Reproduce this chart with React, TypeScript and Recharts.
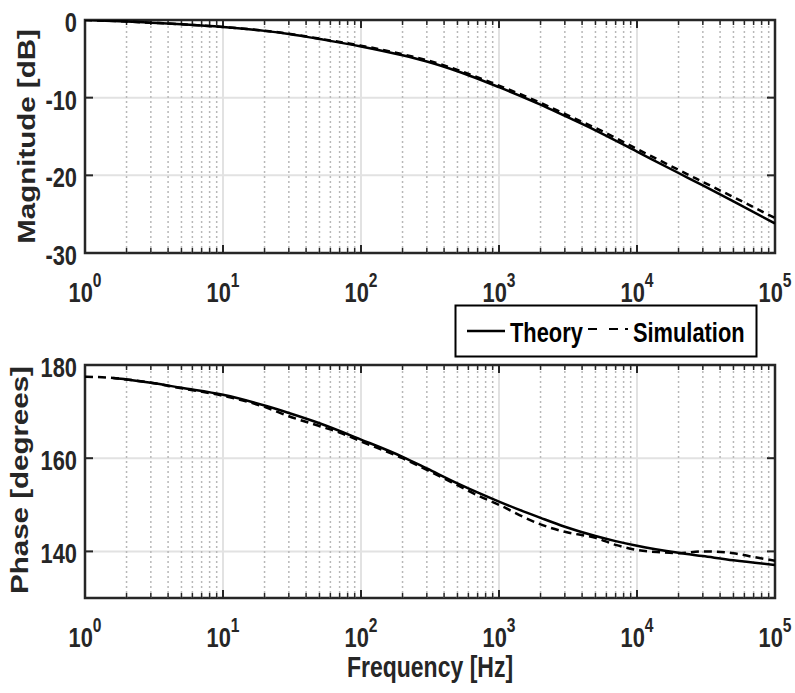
import React from 'react';
import { LineChart, Line, XAxis, YAxis, CartesianGrid, ReferenceLine, ReferenceArea } from 'recharts';

// frequency response: theory vs simulation
const magFreq = [1, 2, 3, 5, 10, 20, 30, 50, 100, 200, 300, 500, 1000, 2000, 3000, 5000, 10000, 20000, 30000, 50000, 100000];
const magTheory = [0, -0.2, -0.35, -0.55, -0.9, -1.4, -1.8, -2.45, -3.4, -4.55, -5.35, -6.6, -8.65, -10.9, -12.35, -14.2, -16.95, -19.7, -21.3, -23.35, -26.2];
const magSimulation = [0, -0.2, -0.35, -0.55, -0.9, -1.38, -1.76, -2.4, -3.3, -4.4, -5.18, -6.42, -8.45, -10.67, -12.1, -13.9, -16.6, -19.3, -20.85, -22.8, -25.5];

const phaseTheoryFreq = [1.6, 2, 3, 5, 10, 20, 30, 50, 100, 200, 300, 500, 1000, 1500, 2000, 3000, 5000, 7000, 10000, 20000, 30000, 50000, 100000];
const phaseTheory = [177.2, 176.9, 176.2, 175.1, 173.6, 171.3, 169.7, 167.5, 164.0, 160.3, 157.8, 154.6, 150.7, 148.6, 147.2, 145.3, 143.3, 142.2, 141.2, 139.7, 139.0, 138.1, 137.1];
const phaseSimFreq = [1, 1.6, 2, 3, 5, 10, 20, 30, 50, 70, 100, 200, 300, 500, 700, 1000, 1500, 2000, 3000, 5000, 7000, 10000, 15000, 20000, 30000, 50000, 70000, 100000];
const phaseSimulation = [177.5, 177.2, 176.9, 176.2, 175.0, 173.4, 171.0, 169.0, 166.9, 165.5, 163.6, 160.0, 157.5, 154.2, 152.0, 150.0, 147.4, 145.8, 144.2, 142.9, 141.4, 140.3, 139.8, 139.6, 140.0, 139.6, 138.8, 138.0];

const decades = [1, 10, 100, 1000, 10000, 100000];
const magTicks = [-30, -20, -10, 0];
const phaseTicks = [140, 160, 180];

const minorFreqs = decades.slice(0, 5).flatMap((d) => [2, 3, 4, 5, 6, 7, 8, 9].map((m) => m * d));

const FONT = '"Liberation Sans", Arial, Helvetica, sans-serif';
const INK = '#262626';
const SQUEEZE = 0.78; // the source picture is narrower than it is tall

const toPoints = (fs: number[], vs: number[]) => fs.map((f, i) => ({ f, v: vs[i] }));

function FreqTick({ x, y, payload }: any) {
  const exp = Math.round(Math.log10(payload.value));
  return (
    <g transform={`translate(${x},${y + 49}) scale(${SQUEEZE},1)`}>
      <text textAnchor="middle" fontFamily={FONT} fontWeight="bold" fontSize={28} fill={INK}>
        10
        <tspan dy={-15} fontSize={20}>{exp}</tspan>
      </text>
    </g>
  );
}

function ValueTick({ x, y, payload }: any) {
  return (
    <g transform={`translate(${x},${y + 12}) scale(${SQUEEZE},1)`}>
      <text textAnchor="end" fontFamily={FONT} fontWeight="bold" fontSize={28} fill={INK}>
        {payload.value}
      </text>
    </g>
  );
}

function Title({ text, x, y, vertical }: { text: string; x: number; y: number; vertical?: boolean }) {
  return (
    <g transform={`translate(${x},${y}) scale(${SQUEEZE},1)${vertical ? ' rotate(-90)' : ''}`}>
      <text textAnchor="middle" fontFamily={FONT} fontWeight="bold" fontSize={29.5} fill={INK}>
        {text}
      </text>
    </g>
  );
}

// inner tick marks + dotted minor grid, MATLAB style
function boxDecor(yMin: number, yMax: number, pxPerUnit: number, yTicks: number[]) {
  const major = 8 / pxPerUnit;
  const minor = 5 / pxPerUnit;
  const side = Math.pow(10, 8 / 138);
  const out: React.ReactNode[] = [];
  minorFreqs.forEach((m) => {
    out.push(<ReferenceLine key={`g${m}`} x={m} stroke="#b8b8b8" strokeDasharray="2 3" strokeWidth={1.5} />);
    out.push(<ReferenceLine key={`b${m}`} segment={[{ x: m, y: yMin }, { x: m, y: yMin + minor }]} stroke={INK} strokeWidth={1.5} />);
    out.push(<ReferenceLine key={`t${m}`} segment={[{ x: m, y: yMax }, { x: m, y: yMax - minor }]} stroke={INK} strokeWidth={1.5} />);
  });
  decades.slice(1, 5).forEach((d) => {
    out.push(<ReferenceLine key={`B${d}`} segment={[{ x: d, y: yMin }, { x: d, y: yMin + major }]} stroke={INK} strokeWidth={2} />);
    out.push(<ReferenceLine key={`T${d}`} segment={[{ x: d, y: yMax }, { x: d, y: yMax - major }]} stroke={INK} strokeWidth={2} />);
  });
  yTicks.filter((t) => t > yMin && t < yMax).forEach((t) => {
    out.push(<ReferenceLine key={`L${t}`} segment={[{ x: 1, y: t }, { x: side, y: t }]} stroke={INK} strokeWidth={2} />);
    out.push(<ReferenceLine key={`R${t}`} segment={[{ x: 100000 / side, y: t }, { x: 100000, y: t }]} stroke={INK} strokeWidth={2} />);
  });
  return out;
}

export default function App() {
  const magT = toPoints(magFreq, magTheory);
  const magS = toPoints(magFreq, magSimulation);
  const phT = toPoints(phaseTheoryFreq, phaseTheory);
  const phS = toPoints(phaseSimFreq, phaseSimulation);

  return (
    <div style={{ position: 'absolute', left: 0, top: 0, width: 795, height: 693, background: '#fff' }}>
      <div style={{ position: 'absolute', left: 0, top: 0 }}>
        <LineChart width={795} height={330} margin={{ top: 20, right: 20, bottom: 0, left: 0 }}>
          <CartesianGrid stroke="#e2e2e2" strokeWidth={2} />
          <XAxis
            dataKey="f"
            type="number"
            scale="log"
            domain={[1, 100000]}
            ticks={decades}
            allowDataOverflow
            height={77}
            axisLine={false}
            tickLine={false}
            tickSize={0}
            tickMargin={0}
            tick={<FreqTick />}
            interval={0}
          />
          <YAxis
            type="number"
            domain={[-30, 0]}
            ticks={magTicks}
            allowDataOverflow
            width={85}
            axisLine={false}
            tickLine={false}
            tickSize={0}
            tickMargin={8}
            tick={<ValueTick />}
            interval={0}
          />
          {boxDecor(-30, 0, 233 / 30, magTicks)}
          <Line data={magS} dataKey="v" type="monotone" stroke="#000" strokeWidth={2.5} strokeDasharray="7 5" dot={false} isAnimationActive={false} />
          <Line data={magT} dataKey="v" type="monotone" stroke="#000" strokeWidth={2.5} dot={false} isAnimationActive={false} />
          <ReferenceArea x1={1} x2={100000} y1={-30} y2={0} fill="none" stroke={INK} strokeWidth={2.5} ifOverflow="visible" />
        </LineChart>
      </div>

      <div style={{ position: 'absolute', left: 0, top: 330 }}>
        <LineChart width={795} height={363} margin={{ top: 35, right: 20, bottom: 0, left: 0 }}>
          <CartesianGrid stroke="#e2e2e2" strokeWidth={2} />
          <XAxis
            dataKey="f"
            type="number"
            scale="log"
            domain={[1, 100000]}
            ticks={decades}
            allowDataOverflow
            height={95}
            axisLine={false}
            tickLine={false}
            tickSize={0}
            tickMargin={0}
            tick={<FreqTick />}
            interval={0}
          />
          <YAxis
            type="number"
            domain={[130, 180]}
            ticks={phaseTicks}
            allowDataOverflow
            width={85}
            axisLine={false}
            tickLine={false}
            tickSize={0}
            tickMargin={8}
            tick={<ValueTick />}
            interval={0}
          />
          {boxDecor(130, 180, 233 / 50, phaseTicks)}
          <Line data={phS} dataKey="v" type="monotone" stroke="#000" strokeWidth={2.5} strokeDasharray="8 5" dot={false} isAnimationActive={false} />
          <Line data={phT} dataKey="v" type="monotone" stroke="#000" strokeWidth={2.5} dot={false} isAnimationActive={false} />
          <ReferenceArea x1={1} x2={100000} y1={130} y2={180} fill="none" stroke={INK} strokeWidth={2.5} ifOverflow="visible" />
        </LineChart>
      </div>

      {/* axis titles and the legend box between the two panels */}
      <svg width={795} height={693} style={{ position: 'absolute', left: 0, top: 0, pointerEvents: 'none' }}>
        <Title text="Magnitude [dB]" x={35} y={136.5} vertical />
        <Title text="Phase [degrees]" x={28} y={480} vertical />
        <Title text="Frequency [Hz]" x={430} y={677} />

        <rect x={455.5} y={305.5} width={301} height={51} fill="#fff" stroke="#000" strokeWidth={2} />
        <line x1={467} x2={505} y1={331} y2={331} stroke="#000" strokeWidth={2.5} />
        <g transform={`translate(510,342) scale(${SQUEEZE},1)`}>
          <text fontFamily={FONT} fontWeight="bold" fontSize={28} fill="#000">Theory</text>
        </g>
        <line x1={588} x2={628} y1={329} y2={329} stroke="#000" strokeWidth={2} strokeDasharray="9 12 9 7 3 20" />
        <g transform={`translate(633,342) scale(${SQUEEZE},1)`}>
          <text fontFamily={FONT} fontWeight="bold" fontSize={28} fill="#000">Simulation</text>
        </g>
      </svg>
    </div>
  );
}
